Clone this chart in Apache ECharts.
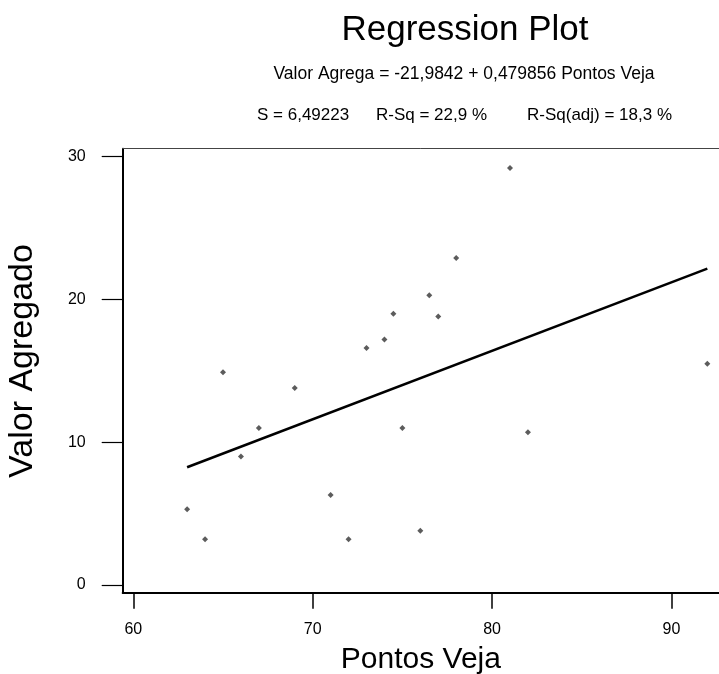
<!DOCTYPE html>
<html>
<head>
<meta charset="utf-8">
<script src="https://cdn.jsdelivr.net/npm/echarts@6/dist/echarts.min.js"></script>
<style>
  html, body { margin: 0; padding: 0; background: #fff; }
  #main { width: 719px; height: 674px; }
</style>
</head>
<body>
<div id="main"></div>
<script>
// pontos veja (x) / valor agregado (y)
var pontos = [63, 64, 65, 66, 67, 69, 71, 72, 73, 74, 74.5, 75, 76, 76.5, 77, 78, 81, 82, 92]
var valor = [5.3, 3.2, 14.9, 9.0, 11.0, 13.8, 6.3, 3.2, 16.6, 17.2, 19.0, 11.0, 3.8, 20.3, 18.8, 22.9, 29.2, 10.7, 15.5]
// fitted line end points
var fitX = [63, 92]
var fitY = [8.25, 22.16]
var xTicks = [60, 70, 80, 90]
var yTicks = [0, 10, 20, 30]

var pts = pontos.map(function (x, i) { return [x, valor[i]] })
var fit = fitX.map(function (x, i) { return [x, fitY[i]] })

var font = 'Liberation Sans, Arial, sans-serif'
var myChart = echarts.init(document.getElementById('main'))

var xMin = 59.41
var xMax = 92.65

myChart.setOption({
  animation: false,
  grid: {
    left: 122.7,
    top: 148.7,
    right: 0,
    bottom: 81.3,
    outerBoundsMode: 'none',
    containLabel: false
  },
  graphic: [
    { type: 'text', x: 465, y: 30, style: { text: 'Regression Plot', font: '35px ' + font, fill: '#000', textAlign: 'center', textVerticalAlign: 'middle' } },
    { type: 'text', x: 464, y: 74, style: { text: 'Valor Agrega = -21,9842 + 0,479856 Pontos Veja', font: '17.5px ' + font, fill: '#000', textAlign: 'center', textVerticalAlign: 'middle' } },
    { type: 'text', x: 257, y: 115, style: { text: 'S = 6,49223', font: '17px ' + font, fill: '#000', textAlign: 'left', textVerticalAlign: 'middle' } },
    { type: 'text', x: 376, y: 115, style: { text: 'R-Sq = 22,9 %', font: '17px ' + font, fill: '#000', textAlign: 'left', textVerticalAlign: 'middle' } },
    { type: 'text', x: 527, y: 115, style: { text: 'R-Sq(adj) = 18,3 %', font: '17px ' + font, fill: '#000', textAlign: 'left', textVerticalAlign: 'middle' } },
    { type: 'text', x: 23, y: 361, rotation: Math.PI / 2, style: { text: 'Valor Agregado', font: '34px ' + font, fill: '#000', textAlign: 'center', textVerticalAlign: 'middle' } }
  ],
  xAxis: [
    {
      type: 'value',
      min: xMin,
      max: xMax,
      name: 'Pontos Veja',
      nameLocation: 'middle',
      nameGap: 52,
      nameTextStyle: { fontFamily: font, fontSize: 30, color: '#000' },
      splitLine: { show: false },
      axisLine: { onZero: false, lineStyle: { color: '#000', width: 2 } },
      axisTick: { customValues: xTicks, length: 16, lineStyle: { color: '#000', width: 1.5 } },
      axisLabel: { customValues: xTicks, margin: 29, fontFamily: font, fontSize: 16, color: '#000' }
    },
    {
      // top frame line only
      type: 'value',
      position: 'top',
      min: xMin,
      max: xMax,
      splitLine: { show: false },
      axisLine: { onZero: false, lineStyle: { color: '#444', width: 1 } },
      axisTick: { show: false },
      axisLabel: { show: false }
    }
  ],
  yAxis: {
    type: 'value',
    min: -0.54,
    max: 30.56,
    splitLine: { show: false },
    axisLine: { onZero: false, lineStyle: { color: '#000', width: 2 } },
    axisTick: { customValues: yTicks, length: 21, lineStyle: { color: '#000', width: 1.2 } },
    axisLabel: { customValues: yTicks, margin: 37, fontFamily: font, fontSize: 16, color: '#000' }
  },
  series: [
    {
      type: 'line',
      data: fit,
      symbol: 'none',
      lineStyle: { color: '#000', width: 2.5 },
      z: 2
    },
    {
      type: 'scatter',
      data: pts,
      symbol: 'diamond',
      symbolSize: 6,
      itemStyle: { color: '#333' },
      z: 3
    }
  ]
})
</script>
</body>
</html>
